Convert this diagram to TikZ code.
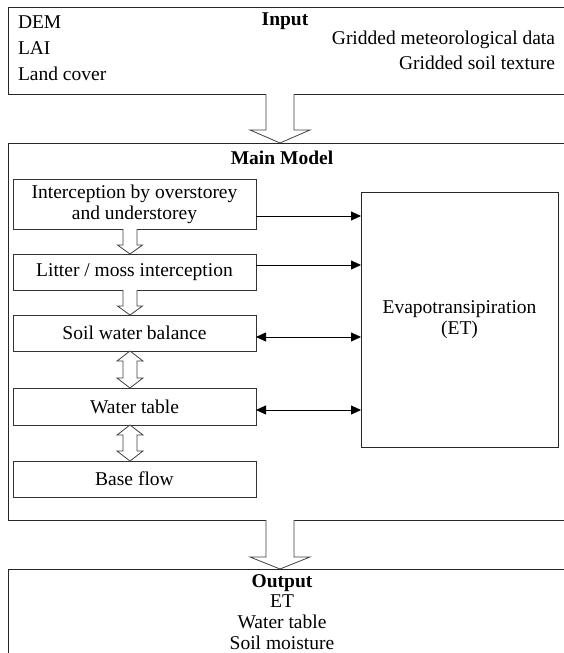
\documentclass[tikz,border=0pt]{standalone}
\usepackage{fontspec}
\setmainfont{Liberation Serif}
\usetikzlibrary{positioning,calc,arrows.meta}

% hollow block arrows: #1 start, #2 tip, #3 shaft half width, #4 head half width, #5 head length
\newcommand{\hollowdown}[5]{%
  \draw[hollow] ($(#1)+(-#3,0)$) -- ($(#2)+(-#3,-#5)$) -- ($(#2)+(-#4,-#5)$) -- (#2)
    -- ($(#2)+(#4,-#5)$) -- ($(#2)+(#3,-#5)$) -- ($(#1)+(#3,0)$);}
\newcommand{\hollowboth}[5]{%
  \draw[hollow] (#1) -- ($(#1)+(#4,#5)$) -- ($(#1)+(#3,#5)$) -- ($(#2)+(#3,-#5)$)
    -- ($(#2)+(#4,-#5)$) -- (#2) -- ($(#2)+(-#4,-#5)$) -- ($(#2)+(-#3,-#5)$)
    -- ($(#1)+(-#3,#5)$) -- ($(#1)+(-#4,#5)$) -- cycle;}

\begin{document}
\begin{tikzpicture}[x=1pt, y=-1pt,
  every node/.style={font=\fontsize{19.5}{20.8}\selectfont, inner sep=0pt, outer sep=0pt},
  title/.style={font=\fontsize{19.5}{20.8}\selectfont\bfseries},
  frame/.style={draw=black!85, line width=0.9pt, anchor=north west},
  proc/.style={draw=black!80, line width=0.9pt, minimum width=243pt, align=center},
  hollow/.style={draw=black!75, line width=0.8pt, fill=white},
  arr/.style={-{Triangle[length=10pt,width=9pt]}, line width=0.8pt},
  darr/.style={{Triangle[length=10pt,width=9pt]}-{Triangle[length=10pt,width=9pt]}, line width=0.8pt},
]
\useasboundingbox (0,0) rectangle (563,653);

% Input
\node (input) [frame, minimum width=567pt, minimum height=87pt] at (8,7) {};
\node (intitle) [title, anchor=base] at (285,25) {Input};
\node (dem) [anchor=base west] at (18,28) {DEM};
\node (lai) [anchor=base west] at (18,54) {LAI};
\node (landcover) [anchor=base west] at (18,80) {Land cover};
\node (meteo) [anchor=base east] at (555,44) {Gridded meteorological data};
\node (soil) [anchor=base east] at (555,69) {Gridded soil texture};

% Main model
\node (main) [frame, minimum width=567pt, minimum height=377pt] at (8,143) {};
\node (maintitle) [title, anchor=base] at (282,164) {Main Model};

% left column
\node (inter) [proc, minimum height=50pt, anchor=north west] at (13,179)
  {Interception by overstorey\\and understorey};
\node (litter) [proc, minimum height=36pt, below=25pt of inter] {Litter / moss interception};
\node (balance) [proc, minimum height=36pt, below=25pt of litter] {Soil water balance};
\node (table) [proc, minimum height=37pt, below=37pt of balance] {Water table};
\node (base) [proc, minimum height=36pt, below=36pt of table] {Base flow};

% ET
\node (et) [draw=black!85, line width=0.9pt, minimum width=197pt, minimum height=255pt,
  anchor=north west, align=center] at (361,192) {Evapotransipiration\\(ET)};

% Output
\node (output) [frame, minimum width=567pt, minimum height=100pt] at (8,569) {};
\node (outtitle) [title, anchor=base] at (282,587) {Output};
\node (outlist) [align=center, below=4pt of outtitle] {ET\\Water table\\Soil moisture};

% block arrows
\coordinate (mid) at (280,0);
\coordinate (col) at (130,0);
\hollowdown{mid |- input.south}{mid |- main.north}{14}{30}{13}
\hollowdown{mid |- main.south}{mid |- output.north}{14}{30}{12}
\hollowdown{col |- inter.south}{col |- litter.north}{7}{12.5}{9}
\hollowdown{col |- litter.south}{col |- balance.north}{7}{12.5}{9}
\hollowboth{col |- balance.south}{col |- table.north}{7}{13}{10}
\hollowboth{col |- table.south}{col |- base.north}{7}{13}{10}

% connectors to ET
\draw[arr] ([yshift=-12pt]inter.east) coordinate (c1) -- (c1 -| et.west);
\draw[arr] ([yshift=7pt]litter.east) coordinate (c2) -- (c2 -| et.west);
\draw[darr] ([yshift=-4pt]balance.east) coordinate (c3) -- (c3 -| et.west);
\draw[darr] ([yshift=-3.5pt]table.east) coordinate (c4) -- (c4 -| et.west);

\end{tikzpicture}
\end{document}
